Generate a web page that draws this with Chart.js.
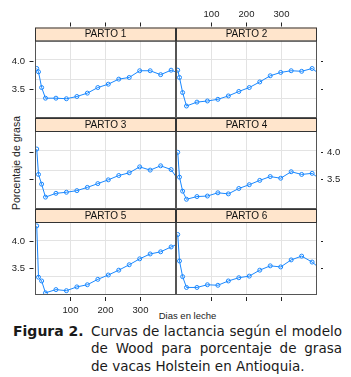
<!DOCTYPE html>
<html>
<head>
<meta charset="utf-8">
<script src="https://cdn.jsdelivr.net/npm/chart.js@4/dist/chart.umd.min.js"></script>
<style>
    body { margin: 0; background: #fff; }
    #page { position: relative; width: 351px; height: 377px; overflow: hidden; background: #fff; }
    #page canvas { position: absolute; left: 0; top: 0; }
    .lab { position: absolute; font-family: 'Liberation Sans', Arial, sans-serif; color: #222; white-space: nowrap; }
    #ylab { left: 16px; top: 163px; font-size: 10.5px; transform: translate(-50%, -50%) rotate(-90deg); }
    #xlab { left: 187.5px; top: 315px; font-size: 9.5px; transform: translate(-50%, -50%); }
    #fig { position: absolute; left: 13px; top: 322.5px; font: bold 14px 'DejaVu Sans', Verdana, sans-serif; line-height: 17.5px; color: #1a1a1a; }
    #caption { position: absolute; left: 91px; top: 322.5px; width: 251px; font: 13.5px 'DejaVu Sans', Verdana, sans-serif; line-height: 17.5px; text-align: justify; color: #1a1a1a; }
</style>
</head>
<body>
<div id="page">
    <div id="ylab" class="lab">Porcentaje de grasa</div>
    <div id="xlab" class="lab">Dias en leche</div>
    <div id="fig">Figura 2.</div>
    <div id="caption">Curvas de lactancia según el modelo de Wood para porcentaje de grasa de vacas Holstein en Antioquia.</div>
</div>
<script>
// days in milk (last one lies past the axis and is clipped, like in the original)
const days = [3, 8, 17, 28, 58, 88, 118, 148, 178, 208, 238, 268, 298, 328, 358, 388, 418];

const parto1 = [3.88, 3.82, 3.54, 3.35, 3.35, 3.34, 3.38, 3.44, 3.54, 3.60, 3.69, 3.72, 3.84, 3.84, 3.77, 3.85, 3.78];
const parto2 = [3.85, 3.72, 3.45, 3.21, 3.28, 3.30, 3.33, 3.39, 3.47, 3.54, 3.64, 3.75, 3.81, 3.84, 3.83, 3.88, 3.74];
const parto3 = [4.06, 3.59, 3.41, 3.17, 3.24, 3.26, 3.29, 3.35, 3.42, 3.49, 3.57, 3.62, 3.73, 3.67, 3.75, 3.68, 3.40];
const parto4 = [4.00, 3.54, 3.28, 3.13, 3.18, 3.19, 3.25, 3.23, 3.33, 3.40, 3.48, 3.55, 3.52, 3.64, 3.59, 3.61, 3.47];
const parto5 = [4.28, 3.33, 3.26, 3.04, 3.10, 3.08, 3.15, 3.19, 3.29, 3.37, 3.46, 3.56, 3.67, 3.76, 3.80, 3.89, 3.98];
const parto6 = [4.12, 3.63, 3.34, 3.14, 3.14, 3.19, 3.18, 3.26, 3.32, 3.35, 3.46, 3.54, 3.52, 3.65, 3.72, 3.61, 3.45];

const panelNames = ['PARTO 1', 'PARTO 2', 'PARTO 3', 'PARTO 4', 'PARTO 5', 'PARTO 6'];
const panelValues = [parto1, parto2, parto3, parto4, parto5, parto6];

const xTicks = [100, 200, 300];
const xTickLabels = ['100', '200', '300'];
const yTicks = [3.5, 4.0];
const yTickLabels = ['3.5', '4.0'];

// layout of the lattice
const W = 351, H = 377;
const colEdges = [[35, 176], [176, 317]];
const rowEdges = [[40.5, 118], [131, 209], [222, 295]];
const rowYRange = [[2.996, 4.38], [2.95, 4.394], [3.0, 4.352]];
const xRange = [-2, 402];
const stripH = 13;
const lineColor = '#1a88ff';
const tickFont = '9.5px "Liberation Sans", Arial, sans-serif';

function crisp(v) {
    return Math.floor(v) + 0.5;
}

const panelPlugin = {
    id: 'panel',
    beforeDatasetsDraw(chart, args, opts) {
        const {ctx, chartArea: a} = chart;
        ctx.save();
        ctx.strokeStyle = '#e3e3e3';
        ctx.lineWidth = 1;
        ctx.beginPath();
        for (let k = 1; k < 4; k++) {
            const x = crisp(a.left + a.width * k / 4);
            const y = crisp(a.top + a.height * k / 4);
            ctx.moveTo(x, a.top);
            ctx.lineTo(x, a.bottom);
            ctx.moveTo(a.left, y);
            ctx.lineTo(a.right, y);
        }
        ctx.stroke();
        ctx.restore();
    },
    afterDraw(chart, args, opts) {
        const {ctx, chartArea: a} = chart;
        const xs = chart.scales.x, ys = chart.scales.y;
        ctx.save();

        // panel border
        ctx.strokeStyle = '#555';
        ctx.lineWidth = 1;
        ctx.strokeRect(a.left + 0.5, a.top + 0.5, a.width - 1, a.height - 1);

        // strip
        const st = a.top - stripH;
        ctx.fillStyle = '#ffe5cc';
        ctx.fillRect(a.left, st, a.width, stripH);
        ctx.strokeStyle = '#333';
        ctx.strokeRect(a.left + 0.5, st + 0.5, a.width - 1, stripH);
        ctx.fillStyle = '#111';
        ctx.font = '10px "Liberation Sans", Arial, sans-serif';
        ctx.textAlign = 'center';
        ctx.textBaseline = 'middle';
        ctx.fillText(opts.name, (a.left + a.right) / 2, st + stripH / 2 + 0.5);

        ctx.strokeStyle = '#222';
        ctx.fillStyle = '#222';
        ctx.font = tickFont;
        ctx.beginPath();

        // x axis on top of the first row, at the bottom of the last row
        if (opts.row === 0) {
            xTicks.forEach((v, i) => {
                const x = crisp(xs.getPixelForValue(v));
                ctx.moveTo(x, st - 5);
                ctx.lineTo(x, st - 1);
                if (opts.col === 1) {
                    ctx.textAlign = 'center';
                    ctx.fillText(xTickLabels[i], x, st - 13);
                }
            });
        }
        if (opts.row === 2) {
            xTicks.forEach((v, i) => {
                const x = crisp(xs.getPixelForValue(v));
                ctx.moveTo(x, a.bottom + 2);
                ctx.lineTo(x, a.bottom + 6);
                if (opts.col === 0) {
                    ctx.textAlign = 'center';
                    ctx.fillText(xTickLabels[i], x, a.bottom + 15.5);
                }
            });
        }

        // y axis, labels alternate left / right
        yTicks.forEach((v, i) => {
            const y = crisp(ys.getPixelForValue(v));
            if (opts.col === 0) {
                ctx.moveTo(a.left - 5.5, y);
                ctx.lineTo(a.left - 1.5, y);
                if (opts.row !== 1) {
                    ctx.textAlign = 'right';
                    ctx.fillText(yTickLabels[i], a.left - 10, y);
                }
            } else {
                ctx.moveTo(a.right + 4, y);
                ctx.lineTo(a.right + 6, y);
                if (opts.row === 1) {
                    ctx.textAlign = 'left';
                    ctx.fillText(yTickLabels[i], a.right + 10, y);
                }
            }
        });
        ctx.stroke();
        ctx.restore();
    }
};

function makePanel(index) {
    const row = Math.floor(index / 2);
    const col = index % 2;
    const c = colEdges[col], r = rowEdges[row];

    const canvas = document.createElement('canvas');
    canvas.width = W;
    canvas.height = H;
    document.getElementById('page').appendChild(canvas);

    return new Chart(canvas, {
        type: 'line',
        data: {
            datasets: [{
                data: days.map((d, i) => ({x: d, y: panelValues[index][i]})),
                borderColor: lineColor,
                borderWidth: 1,
                pointRadius: 2,
                pointBorderWidth: 1,
                pointBorderColor: lineColor,
                pointBackgroundColor: 'rgba(0,0,0,0)',
                tension: 0,
                fill: false
            }]
        },
        options: {
            responsive: false,
            animation: false,
            events: [],
            layout: {
                padding: {left: c[0], right: W - c[1], top: r[0], bottom: H - r[1]}
            },
            scales: {
                x: {type: 'linear', display: false, min: xRange[0], max: xRange[1]},
                y: {type: 'linear', display: false, min: rowYRange[row][0], max: rowYRange[row][1]}
            },
            plugins: {
                legend: {display: false},
                tooltip: {enabled: false},
                panel: {row, col, name: panelNames[index]}
            }
        },
        plugins: [panelPlugin]
    });
}

for (let i = 0; i < panelNames.length; i++) {
    makePanel(i);
}
</script>
</body>
</html>
